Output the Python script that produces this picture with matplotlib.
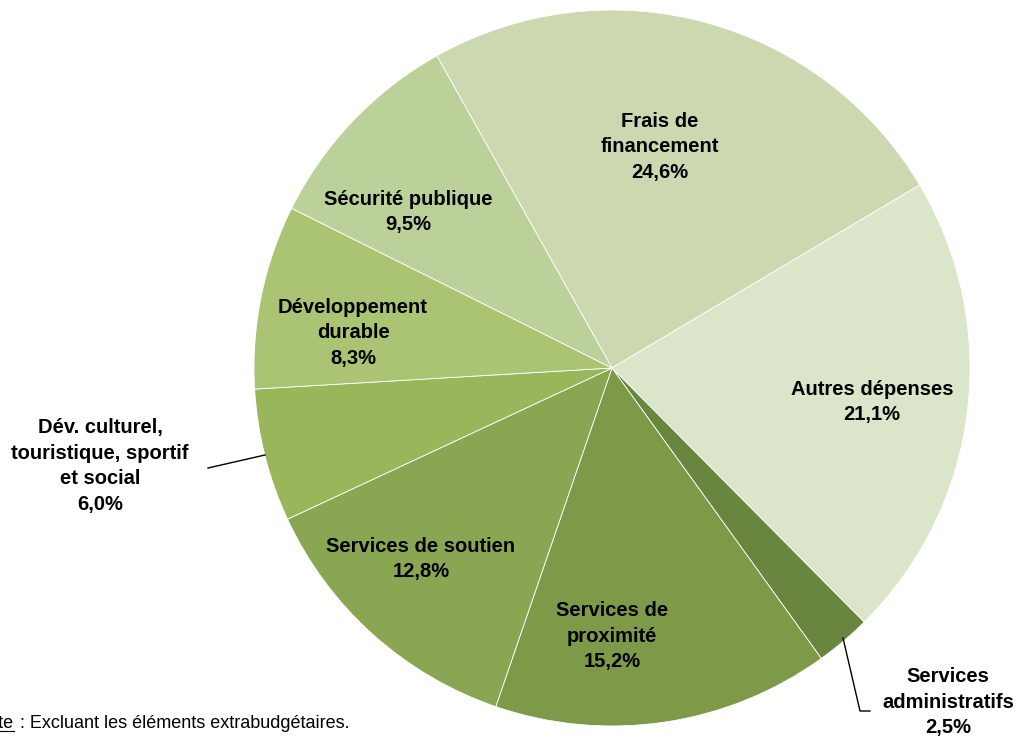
import matplotlib.pyplot as plt

plt.rcParams['font.family'] = ['Liberation Sans', 'DejaVu Sans']

# Répartition des dépenses, en pourcentage
postes = ["Frais de\nfinancement", "Autres dépenses", "Services\nadministratifs",
          "Services de\nproximité", "Services de soutien",
          "Dév. culturel,\ntouristique, sportif\net social",
          "Développement\ndurable", "Sécurité publique"]
parts = [24.6, 21.1, 2.5, 15.2, 12.8, 6.0, 8.3, 9.5]
couleurs = ["#cbd8b0", "#dbe5ca", "#6a863e", "#7e9947", "#8aa652",
            "#9ab65a", "#aac474", "#bcd09a"]

fig = plt.figure(figsize=(10.25, 7.44), dpi=100)
ax = fig.add_axes([0, 0, 1, 1])

cx, cy, r = 612, 744 - 368, 358
ax.pie(parts, colors=couleurs, startangle=119.3, counterclock=False,
       center=(cx, cy), radius=r, frame=True,
       wedgeprops=dict(edgecolor="white", linewidth=0.6))

ax.set_xlim(0, 1025)
ax.set_ylim(0, 744)
ax.set_aspect("equal")
ax.axis("off")

def etiquette(i, x, y):
    txt = postes[i] + "\n" + f"{parts[i]:.1f}".replace(".", ",") + "%"
    ax.text(x, 744 - y, txt, ha="center", va="center", fontsize=14.5,
            fontweight="bold", linespacing=1.45)

etiquette(0, 660, 147)
etiquette(1, 872, 402)
etiquette(2, 948, 702)
etiquette(3, 612, 636)
etiquette(4, 421, 559)
etiquette(5, 100, 466)
etiquette(6, 353, 333)
etiquette(7, 408, 212)

# traits de rappel pour les petites tranches
ax.plot([265, 208], [744 - 455, 744 - 468], color="black", lw=1)
ax.plot([843, 860, 870], [744 - 638, 744 - 711, 744 - 711], color="black", lw=1)

# note en bas à gauche
ax.text(14, 744 - 724, "Note", ha="right", va="center", fontsize=13)
ax.plot([-40, 14], [744 - 731, 744 - 731], color="black", lw=0.8)
ax.text(15, 744 - 724, " : Excluant les éléments extrabudgétaires.",
        ha="left", va="center", fontsize=13)

fig.savefig("out.png", dpi=100)
